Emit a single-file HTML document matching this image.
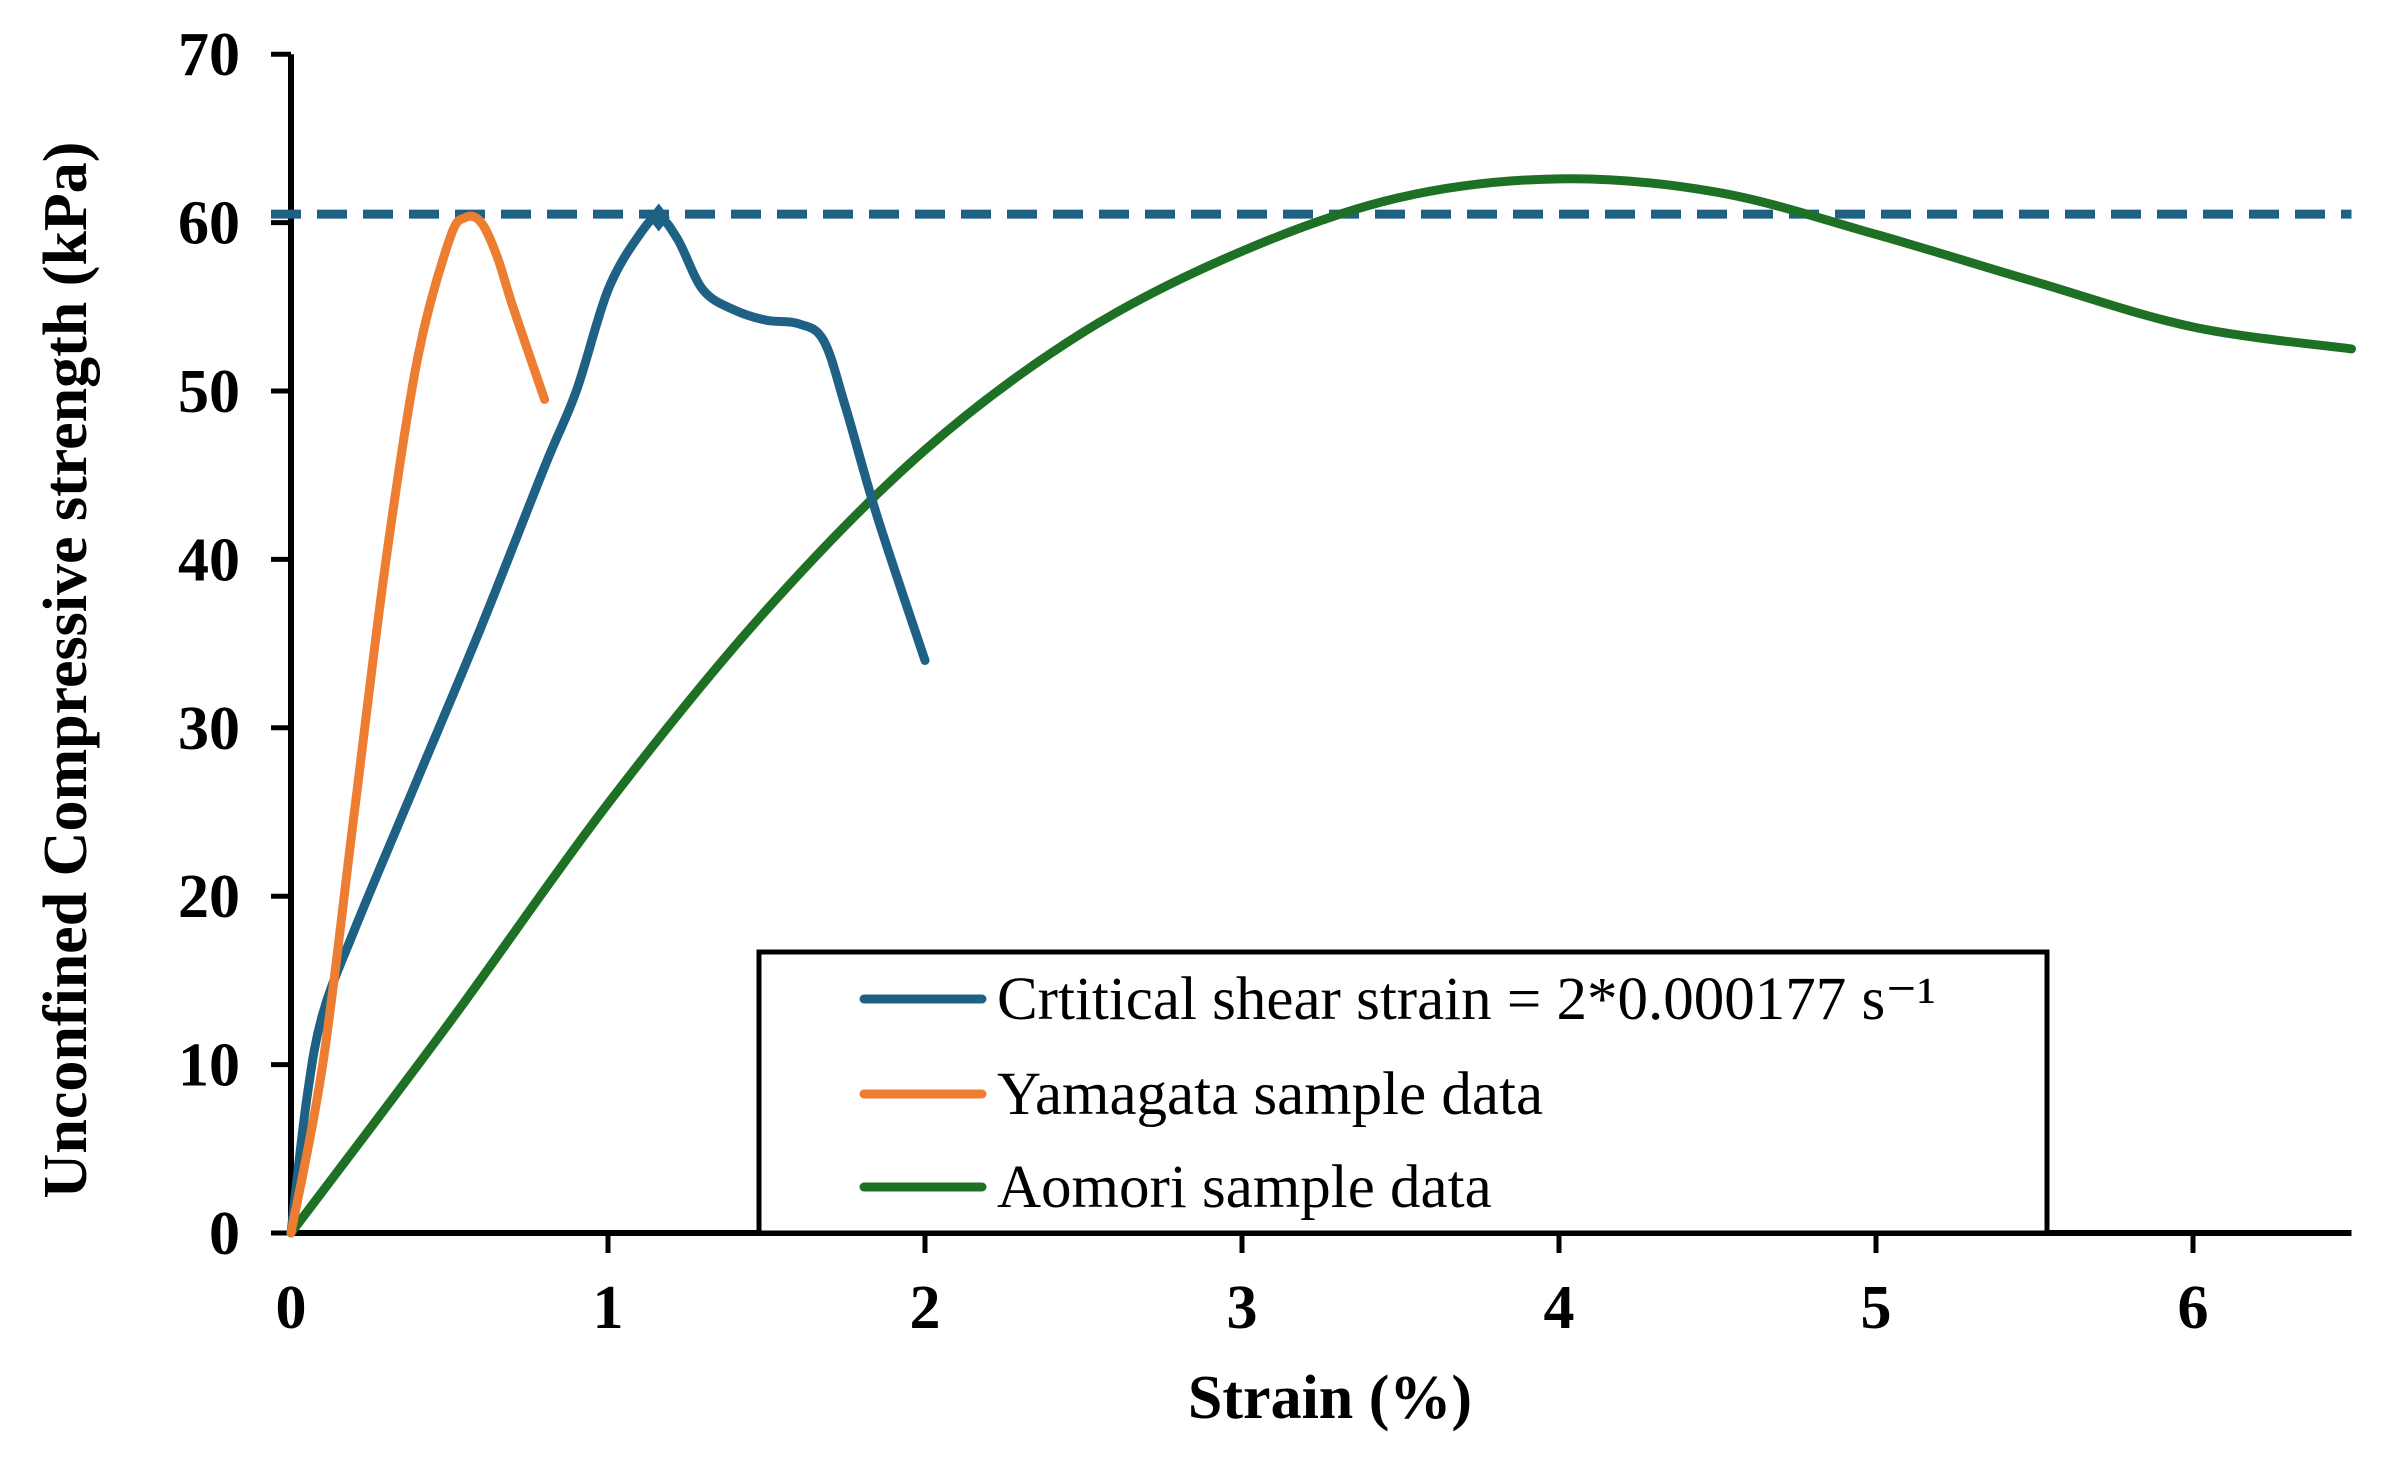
<!DOCTYPE html>
<html><head><meta charset="utf-8"><style>
html,body{margin:0;padding:0;background:#fff;}
svg{display:block;font-family:"Liberation Serif",serif;}
</style></head><body>
<svg id="chart" width="2403" height="1463" viewBox="0 0 2403 1463">
<g id="axes"></g><g id="series"></g>
<g>
 <rect x="759" y="952" width="1288" height="281" fill="#fff" stroke="#000" stroke-width="5"/>
 <line x1="864" y1="999" x2="982" y2="999" stroke="#1f6185" stroke-width="9" stroke-linecap="round"/>
 <text x="997" y="1019" font-size="61">Crtitical shear strain = 2*0.000177 s⁻¹</text>
 <line x1="864" y1="1094" x2="982" y2="1094" stroke="#ed7d31" stroke-width="9" stroke-linecap="round"/>
 <text x="997" y="1114" font-size="61">Yamagata sample data</text>
 <line x1="864" y1="1187" x2="982" y2="1187" stroke="#1e7124" stroke-width="9" stroke-linecap="round"/>
 <text x="997" y="1207" font-size="61">Aomori sample data</text>
</g>
<text x="1330" y="1418" font-size="62" font-weight="bold" text-anchor="middle">Strain (%)</text>
<text transform="translate(86,670) rotate(-90)" font-size="62" font-weight="bold" text-anchor="middle">Unconfined Compressive strength (kPa)</text>
</svg>
<script>
const xTicks=[0,1,2,3,4,5,6];
const yTicks=[0,10,20,30,40,50,60,70];
const criticalX=[0,0.05,0.1,0.2,0.4,0.6,0.8,0.9,1.0,1.1,1.16,1.22,1.3,1.4,1.5,1.6,1.68,1.75,1.85,2.0];
const criticalY=[0,8,13,18,27,36,45.5,50,56,59.3,60.3,59,56,54.8,54.2,54,53,49,42.5,34];
const yamagataX=[0,0.1,0.2,0.3,0.4,0.5,0.55,0.6,0.65,0.7,0.8];
const yamagataY=[0,10,25,40,52,59,60.3,60,58,55,49.5];
const aomoriX=[0,0.5,1,1.5,2,2.5,3,3.5,4,4.5,5,5.5,6,6.5];
const aomoriY=[0,12.5,25.5,37,46.5,53.5,58.3,61.5,62.6,61.8,59.3,56.5,53.8,52.5];
const thresholdY=60.5;
const peakX=1.16, peakY=60.3;

const X0=291,XS=317,Y0=1233,YS=16.84;
const sx=v=>X0+v*XS, sy=v=>Y0-v*YS;
const NS="http://www.w3.org/2000/svg";
function mk(tag,attrs,parent){const e=document.createElementNS(NS,tag);for(const k in attrs)e.setAttribute(k,attrs[k]);parent.appendChild(e);return e;}
const axes=document.getElementById('axes'), series=document.getElementById('series');
let a=mk('line',{x1:X0,y1:sy(70),x2:X0,y2:Y0+3,stroke:'#000','stroke-width':6},axes);


a=mk('line',{x1:X0-3,y1:Y0,x2:sx(6.5),y2:Y0,stroke:'#000','stroke-width':6},axes);


yTicks.forEach(v=>{
 const t=mk('line',{x1:X0-20,y1:sy(v),x2:X0,y2:sy(v),stroke:'#000','stroke-width':5},axes);
 
 
 const l=mk('text',{x:240,y:sy(v)+21,'font-size':62,'font-weight':'bold','text-anchor':'end'},axes);
 l.textContent=v;
 
 
});
xTicks.forEach(v=>{
 if(v>0){const t=mk('line',{x1:sx(v),y1:Y0,x2:sx(v),y2:Y0+20,stroke:'#000','stroke-width':5},axes);
 
 }
 const l=mk('text',{x:sx(v),y:1328,'font-size':62,'font-weight':'bold','text-anchor':'middle'},axes);
 l.textContent=v;
 
 
});
function smooth(xs,ys){
 const p=xs.map((x,i)=>[sx(x),sy(ys[i])]);
 let d=`M${p[0][0]},${p[0][1]}`;
 for(let i=0;i<p.length-1;i++){
  const p0=p[i-1]||p[i],p1=p[i],p2=p[i+1],p3=p[i+2]||p2;
  const c1=[p1[0]+(p2[0]-p0[0])/6,p1[1]+(p2[1]-p0[1])/6];
  const c2=[p2[0]-(p3[0]-p1[0])/6,p2[1]-(p3[1]-p1[1])/6];
  d+=` C${c1[0]},${c1[1]} ${c2[0]},${c2[1]} ${p2[0]},${p2[1]}`;
 }
 return d;
}
let th=mk('line',{x1:X0-20,y1:sy(thresholdY),x2:sx(6.5),y2:sy(thresholdY),stroke:'#1f6185','stroke-width':9,'stroke-dasharray':'30 16'},series);


let s=mk('path',{d:smooth(aomoriX,aomoriY),fill:'none',stroke:'#1e7124','stroke-width':9,'stroke-linecap':'round'},series);


s=mk('path',{d:smooth(criticalX,criticalY),fill:'none',stroke:'#1f6185','stroke-width':9,'stroke-linecap':'round'},series);


s=mk('path',{d:smooth(yamagataX,yamagataY),fill:'none',stroke:'#ed7d31','stroke-width':9,'stroke-linecap':'round'},series);


const px=sx(peakX),py=sy(peakY);
s=mk('polygon',{points:`${px},${py-14} ${px+11},${py} ${px},${py+14} ${px-11},${py}`,fill:'#1f6185'},series);


</script>
</body></html>
